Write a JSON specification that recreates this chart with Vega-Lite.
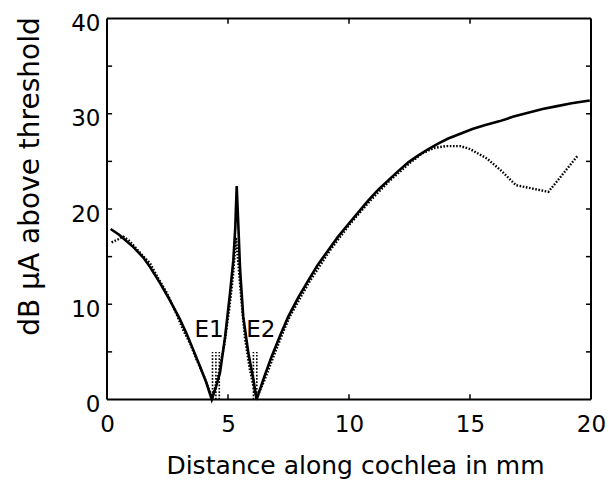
{
  "$schema": "https://vega.github.io/schema/vega-lite/v6.json",
  "width": 484,
  "height": 381,
  "autosize": "none",
  "padding": {"left": 107, "top": 18.5, "right": 18, "bottom": 85.5},
  "config": {
    "view": {"stroke": null},
    "font": "DejaVu Sans",
    "axis": {
      "domain": false,
      "ticks": false,
      "tickSize": 0,
      "grid": false,
      "labelColor": "black",
      "titleColor": "black",
      "titleFontWeight": "normal",
      "labelFlush": false,
      "labelOverlap": false
    }
  },
  "datasets": {
    "solid": [
      {"x": 0.15, "y": 17.9}, {"x": 0.5, "y": 17.3}, {"x": 1.09, "y": 16.0}, {"x": 1.5, "y": 14.9},
      {"x": 1.78, "y": 13.9}, {"x": 2.2, "y": 12.2}, {"x": 2.6, "y": 10.4}, {"x": 3.0, "y": 8.5},
      {"x": 3.29, "y": 6.9}, {"x": 3.6, "y": 5.0}, {"x": 3.84, "y": 3.5}, {"x": 4.1, "y": 1.8},
      {"x": 4.33, "y": 0.0}, {"x": 4.5, "y": 1.3}, {"x": 4.67, "y": 2.8}, {"x": 4.88, "y": 6.6},
      {"x": 5.08, "y": 11.1}, {"x": 5.22, "y": 14.6}, {"x": 5.3, "y": 18.0}, {"x": 5.36, "y": 22.4},
      {"x": 5.43, "y": 18.1}, {"x": 5.5, "y": 13.6}, {"x": 5.63, "y": 8.7}, {"x": 5.84, "y": 4.9},
      {"x": 6.05, "y": 2.1}, {"x": 6.18, "y": 0.0}, {"x": 6.5, "y": 2.4}, {"x": 6.8, "y": 4.5},
      {"x": 7.15, "y": 6.7}, {"x": 7.49, "y": 8.7}, {"x": 7.9, "y": 10.7}, {"x": 8.32, "y": 12.5},
      {"x": 8.7, "y": 14.1}, {"x": 9.15, "y": 15.7}, {"x": 9.55, "y": 17.1}, {"x": 9.97, "y": 18.4},
      {"x": 10.4, "y": 19.7}, {"x": 10.8, "y": 20.9}, {"x": 11.2, "y": 22.0}, {"x": 11.62, "y": 23.0},
      {"x": 12.0, "y": 23.9}, {"x": 12.45, "y": 24.9}, {"x": 12.85, "y": 25.6}, {"x": 13.28, "y": 26.3},
      {"x": 13.7, "y": 26.9}, {"x": 14.1, "y": 27.4}, {"x": 14.6, "y": 27.9}, {"x": 15.1, "y": 28.4},
      {"x": 15.6, "y": 28.8}, {"x": 16.2, "y": 29.2}, {"x": 16.8, "y": 29.7}, {"x": 17.4, "y": 30.1},
      {"x": 18.0, "y": 30.5}, {"x": 18.6, "y": 30.8}, {"x": 19.2, "y": 31.1}, {"x": 19.95, "y": 31.4}
    ],
    "dotted": [
      {"x": 0.19, "y": 16.5}, {"x": 0.45, "y": 16.8}, {"x": 0.67, "y": 17.1}, {"x": 0.9, "y": 16.7},
      {"x": 1.09, "y": 16.2}, {"x": 1.4, "y": 15.3}, {"x": 1.78, "y": 14.3}, {"x": 2.1, "y": 12.8},
      {"x": 2.47, "y": 11.2}, {"x": 2.8, "y": 9.4}, {"x": 3.15, "y": 7.3}, {"x": 3.45, "y": 5.8},
      {"x": 3.7, "y": 4.2}, {"x": 4.0, "y": 2.5}, {"x": 4.26, "y": 0.7}, {"x": 4.35, "y": 0.2},
      {"x": 4.6, "y": 2.5}, {"x": 4.85, "y": 5.8}, {"x": 5.05, "y": 9.5}, {"x": 5.2, "y": 12.8},
      {"x": 5.33, "y": 17.0}, {"x": 5.42, "y": 14.5}, {"x": 5.55, "y": 10.5}, {"x": 5.7, "y": 6.5},
      {"x": 5.9, "y": 3.2}, {"x": 6.1, "y": 0.8}, {"x": 6.2, "y": 0.2}, {"x": 6.5, "y": 2.0},
      {"x": 6.85, "y": 4.3}, {"x": 7.2, "y": 6.6}, {"x": 7.55, "y": 8.7}, {"x": 7.95, "y": 10.5},
      {"x": 8.35, "y": 12.3}, {"x": 9.2, "y": 15.6}, {"x": 10.0, "y": 18.3}, {"x": 10.85, "y": 20.8},
      {"x": 11.65, "y": 22.9}, {"x": 12.5, "y": 24.8}, {"x": 13.0, "y": 25.8}, {"x": 13.5, "y": 26.4},
      {"x": 14.0, "y": 26.6}, {"x": 14.6, "y": 26.6}, {"x": 15.0, "y": 26.3}, {"x": 15.7, "y": 25.3},
      {"x": 16.3, "y": 24.0}, {"x": 16.9, "y": 22.5}, {"x": 18.24, "y": 21.8}, {"x": 19.45, "y": 25.6}
    ],
    "markers": [
      {"x": 4.36, "y0": 0, "y1": 5}, {"x": 4.5, "y0": 0, "y1": 5}, {"x": 4.64, "y0": 0, "y1": 5},
      {"x": 6.05, "y0": 0, "y1": 5}, {"x": 6.19, "y0": 0, "y1": 5}
    ],
    "elabels": [
      {"x": 4.22, "y": 6.6, "label": "E1"},
      {"x": 6.36, "y": 6.6, "label": "E2"}
    ],
    "frame": [
      {"x": 0, "x2": 20, "y": 0, "y2": 0},
      {"x": 0, "x2": 20, "y": 40, "y2": 40},
      {"x": 0, "x2": 0, "y": 0, "y2": 40},
      {"x": 20, "x2": 20, "y": 0, "y2": 40}
    ],
    "ticks": [
      {"x": 5, "x2": 5, "y": 0, "y2": 0.55}, {"x": 10, "x2": 10, "y": 0, "y2": 0.55}, {"x": 15, "x2": 15, "y": 0, "y2": 0.55},
      {"x": 5, "x2": 5, "y": 39.45, "y2": 40}, {"x": 10, "x2": 10, "y": 39.45, "y2": 40}, {"x": 15, "x2": 15, "y": 39.45, "y2": 40},
      {"x": 0, "x2": 0.21, "y": 5, "y2": 5}, {"x": 0, "x2": 0.21, "y": 10, "y2": 10}, {"x": 0, "x2": 0.21, "y": 15, "y2": 15},
      {"x": 0, "x2": 0.21, "y": 20, "y2": 20}, {"x": 0, "x2": 0.21, "y": 25, "y2": 25}, {"x": 0, "x2": 0.21, "y": 30, "y2": 30},
      {"x": 0, "x2": 0.21, "y": 35, "y2": 35},
      {"x": 19.79, "x2": 20, "y": 5, "y2": 5}, {"x": 19.79, "x2": 20, "y": 10, "y2": 10}, {"x": 19.79, "x2": 20, "y": 15, "y2": 15},
      {"x": 19.79, "x2": 20, "y": 20, "y2": 20}, {"x": 19.79, "x2": 20, "y": 25, "y2": 25}, {"x": 19.79, "x2": 20, "y": 30, "y2": 30},
      {"x": 19.79, "x2": 20, "y": 35, "y2": 35}
    ]
  },
  "layer": [
    {
      "data": {"name": "solid"},
      "mark": {"type": "line", "color": "black", "strokeWidth": 2.6},
      "encoding": {
        "x": {
          "field": "x", "type": "quantitative",
          "scale": {"domain": [0, 20], "nice": false, "zero": false},
          "axis": {
            "orient": "bottom", "values": [0, 5, 10, 15, 20],
            "labelFontSize": 23, "labelBaseline": "alphabetic", "labelPadding": 31.5,
            "title": "Distance along cochlea in mm", "titleFontSize": 25,
            "titleBaseline": "alphabetic", "titleAlign": "center", "titleX": 248, "titleY": 74
          }
        },
        "y": {
          "field": "y", "type": "quantitative",
          "scale": {"domain": [0, 40], "nice": false, "zero": false},
          "axis": {
            "orient": "left", "values": [0, 10, 20, 30, 40],
            "labelFontSize": 23, "labelBaseline": "middle", "labelPadding": 7, "labelOffset": 5,
            "title": "dB µA above threshold", "titleFontSize": 28,
            "titleAngle": -90, "titleBaseline": "alphabetic", "titleAlign": "center",
            "titleX": -69, "titleY": 157.5
          }
        }
      }
    },
    {
      "data": {"name": "dotted"},
      "mark": {"type": "line", "color": "black", "strokeWidth": 2.4, "strokeDash": [1.6, 1.6]},
      "encoding": {
        "x": {"field": "x", "type": "quantitative"},
        "y": {"field": "y", "type": "quantitative"}
      }
    },
    {
      "data": {"name": "markers"},
      "mark": {"type": "rule", "color": "black", "strokeWidth": 1.6, "strokeDash": [1.7, 1.6]},
      "encoding": {
        "x": {"field": "x", "type": "quantitative"},
        "y": {"field": "y0", "type": "quantitative"},
        "y2": {"field": "y1"}
      }
    },
    {
      "data": {"name": "frame"},
      "mark": {"type": "rule", "color": "black", "strokeWidth": 2},
      "encoding": {
        "x": {"field": "x", "type": "quantitative"},
        "x2": {"field": "x2"},
        "y": {"field": "y", "type": "quantitative"},
        "y2": {"field": "y2"}
      }
    },
    {
      "data": {"name": "ticks"},
      "mark": {"type": "rule", "color": "black", "strokeWidth": 1.5},
      "encoding": {
        "x": {"field": "x", "type": "quantitative"},
        "x2": {"field": "x2"},
        "y": {"field": "y", "type": "quantitative"},
        "y2": {"field": "y2"}
      }
    },
    {
      "data": {"name": "elabels"},
      "mark": {"type": "text", "color": "black", "fontSize": 23, "font": "DejaVu Sans", "align": "center", "baseline": "alphabetic"},
      "encoding": {
        "x": {"field": "x", "type": "quantitative"},
        "y": {"field": "y", "type": "quantitative"},
        "text": {"field": "label"}
      }
    }
  ]
}
